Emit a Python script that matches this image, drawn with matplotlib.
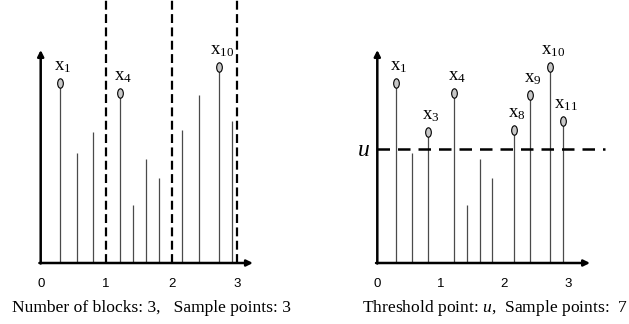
import numpy as np
import matplotlib
matplotlib.use('Agg')
import matplotlib.pyplot as plt
from matplotlib.path import Path
from matplotlib.transforms import Affine2D

plt.rcParams['mathtext.fontset'] = 'custom'
plt.rcParams['mathtext.rm'] = 'Liberation Serif'
plt.rcParams['mathtext.it'] = 'Liberation Serif:italic'

# ------------------------------------------------------------
# Data: 11 observations, shared by both panels
# ------------------------------------------------------------
x_pos = [0.30, 0.55, 0.80, 1.21, 1.41, 1.61, 1.81, 2.16, 2.41, 2.72, 2.92]
heights = [18.0, 11.0, 13.1, 17.0, 5.8, 10.4, 8.5, 13.3, 16.8, 19.6, 14.2]
block_edges = [1, 2, 3]
threshold = 11.4
xticks = [0, 1, 2, 3]
caption_left = 'Number of blocks: 3,   Sample points: 3'
caption_right = r'Threshold point: $\mathit{u}$,  Sample points:  7'

x_pos = np.array(x_pos)
heights = np.array(heights)

# block maxima (left) and peaks over threshold (right)
bm_idx = []
lo = 0
for hi in block_edges:
    sel = np.where((x_pos >= lo) & (x_pos < hi))[0]
    bm_idx.append(sel[np.argmax(heights[sel])])
    lo = hi
pot_idx = np.where(heights > threshold)[0]

# tall ellipse marker
ell = Path.unit_circle().transformed(Affine2D().scale(0.6, 1.0))

W, H = 629, 324
fig = plt.figure(figsize=(W / 100, H / 100), dpi=100)

base_py = 263  # x-axis row, pixels from top
ax_l = fig.add_axes([40.7 / W, (H - base_py) / H, 65.5 * 3.8 / W, base_py / H])
ax_r = fig.add_axes([377.3 / W, (H - base_py) / H, 63.5 * 3.8 / W, base_py / H])


def draw_panel(ax, marked, xarrow):
    ax.set_xlim(0, 3.8)
    ax.set_ylim(0, base_py / 10)
    for s in ax.spines.values():
        s.set_visible(False)
    ax.set_yticks([])
    ax.set_xticks(xticks)
    ax.tick_params(axis='x', length=0, pad=10.5, labelsize=9.5)
    for lab in ax.get_xticklabels():
        lab.set_family('Liberation Sans')

    ax.vlines(x_pos, 0, heights, color='#4a4a4a', lw=0.9, zorder=2)
    ax.plot(x_pos[marked], heights[marked], ls='none', marker=ell,
            ms=6.8, mfc='#c8c8c8', mec='black', mew=0.8, zorder=4)
    for i in marked:
        ax.annotate(r'$\mathrm{x}_{%d}$' % (i + 1), (x_pos[i], heights[i]),
                    xytext=(2, 9.5), textcoords='offset points',
                    ha='center', va='baseline', fontsize=13.5, zorder=5)

    arrow = dict(arrowstyle='-|>', lw=1.8, color='black',
                 mutation_scale=9, shrinkA=0, shrinkB=0)
    ax.annotate('', xy=(0, 21.3), xytext=(0, -0.05), arrowprops=arrow,
                annotation_clip=False, zorder=6)
    ax.annotate('', xy=(xarrow, 0), xytext=(-0.02, 0), arrowprops=arrow,
                annotation_clip=False, zorder=6)


draw_panel(ax_l, bm_idx, 3.24)
draw_panel(ax_r, pot_idx, 3.35)

# block boundaries
ax_l.vlines(block_edges, 0, base_py / 10, color='black', lw=1.6,
            linestyles=(0, (4, 2)), zorder=3)

# threshold line
ax_r.plot([0, 3.59], [threshold, threshold], color='black', lw=1.8,
          dashes=(5, 3.2), zorder=3)
ax_r.text(-0.21, threshold, r'$\mathit{u}$', fontsize=17, ha='center',
          va='center', clip_on=False)

fig.text(151.7 / W, 1 - 308 / H, caption_left, family='Liberation Serif',
         fontsize=12.6, ha='center', va='center')
fig.text(495 / W, 1 - 308 / H, caption_right, family='Liberation Serif',
         fontsize=12.6, ha='center', va='center')

fig.savefig('out.png', dpi=100)
